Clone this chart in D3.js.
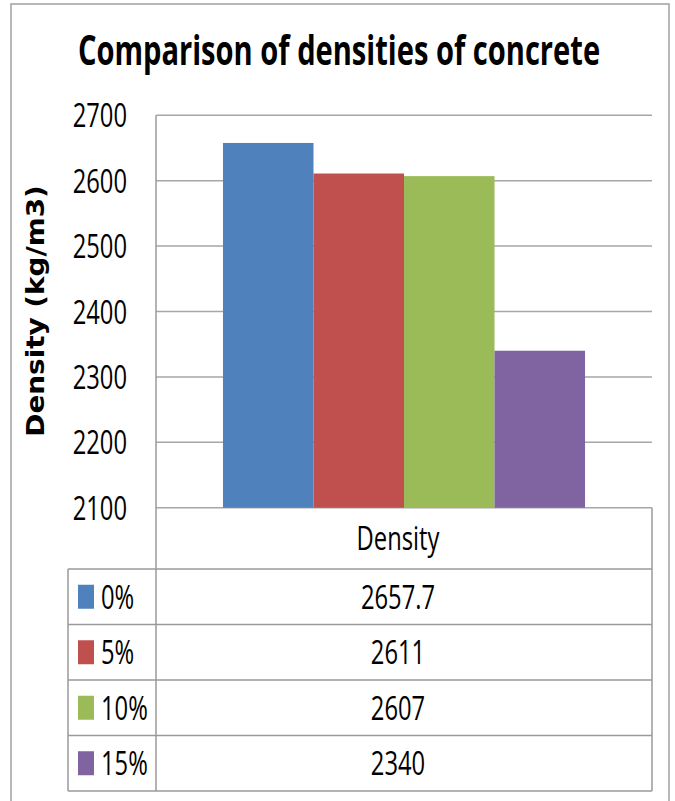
<!DOCTYPE html>
<html>
<head>
<meta charset="utf-8">
<script src="https://cdn.jsdelivr.net/npm/d3@7"></script>
<style>
  html, body { margin: 0; padding: 0; background: #fff; }
  svg { display: block; }
</style>
</head>
<body>
<svg id="chart" width="675" height="801"></svg>
<script>
// Chart data
const categories = ["Density"];
const seriesNames = ["0%", "5%", "10%", "15%"];
const seriesValues = [2657.7, 2611, 2607, 2340];
const seriesColors = ["#4F81BD", "#C0504D", "#9BBB59", "#8064A2"];
const yTicks = [2100, 2200, 2300, 2400, 2500, 2600, 2700];
const titleText = "Comparison of densities of concrete";
const yAxisTitle = "Density (kg/m3)";

const svg = d3.select("#chart");
const font = "'Open Sans', sans-serif";

// Layout
const plot = { left: 156, right: 652, top: 115.3, bottom: 507.7 };
const table = { left: 68, headerBottom: 569, rowH: 55.5 };
const gridColor = "#a6a6a6";
const tableColor = "#9a9a9a";

// Narrow-looking text: regular font compressed horizontally
function narrowText(g, x, y, txt, size, sx, anchor, weight) {
  return g.append("text")
    .attr("transform", `translate(${x},${y}) scale(${sx},1)`)
    .attr("text-anchor", anchor)
    .attr("font-family", font)
    .attr("font-size", size)
    .attr("font-weight", weight || "normal")
    .attr("fill", "#000")
    .text(txt);
}

// Outer chart frame
svg.append("rect")
  .attr("x", 11).attr("y", 4)
  .attr("width", 658).attr("height", 820)
  .attr("fill", "none")
  .attr("stroke", "#a0a0a0")
  .attr("stroke-width", 1.5);

// Scales
const y = d3.scaleLinear()
  .domain([yTicks[0], yTicks[yTicks.length - 1]])
  .range([plot.bottom, plot.top]);

const x0 = d3.scaleBand()
  .domain(categories)
  .range([plot.left, plot.right])
  .paddingInner(0)
  .paddingOuter(0.185);

const x1 = d3.scaleBand()
  .domain(seriesNames)
  .range([0, x0.bandwidth()])
  .padding(0);

// Gridlines
const gridG = svg.append("g");
gridG.selectAll("line")
  .data(yTicks)
  .join("line")
  .attr("x1", plot.left).attr("x2", plot.right)
  .attr("y1", d => y(d)).attr("y2", d => y(d))
  .attr("stroke", gridColor)
  .attr("stroke-width", 1.5);

// Bars
const barG = svg.append("g");
categories.forEach(cat => {
  barG.selectAll("rect")
    .data(seriesNames.map((s, i) => ({ s, v: seriesValues[i], c: seriesColors[i] })))
    .join("rect")
    .attr("x", d => x0(cat) + x1(d.s))
    .attr("y", d => y(d.v))
    .attr("width", x1.bandwidth())
    .attr("height", d => y(yTicks[0]) - y(d.v))
    .attr("fill", d => d.c);
});

// Y tick labels
const tickG = svg.append("g");
yTicks.forEach(t => {
  narrowText(tickG, 127, y(t) + 12, String(t), 33, 0.72, "end");
});

// Vertical axis line (continues as the table column divider)
const tableBottom = table.headerBottom + table.rowH * seriesNames.length;
svg.append("line")
  .attr("x1", plot.left).attr("x2", plot.left)
  .attr("y1", plot.top).attr("y2", tableBottom)
  .attr("stroke", tableColor).attr("stroke-width", 1.5);

// Data table
const tblG = svg.append("g");
// right border
tblG.append("line")
  .attr("x1", plot.right).attr("x2", plot.right)
  .attr("y1", plot.bottom).attr("y2", tableBottom)
  .attr("stroke", tableColor).attr("stroke-width", 1.5);
// left border
tblG.append("line")
  .attr("x1", table.left).attr("x2", table.left)
  .attr("y1", table.headerBottom).attr("y2", tableBottom)
  .attr("stroke", tableColor).attr("stroke-width", 1.5);
// horizontal row lines
d3.range(seriesNames.length + 1).forEach(i => {
  const yy = table.headerBottom + i * table.rowH;
  tblG.append("line")
    .attr("x1", table.left).attr("x2", plot.right)
    .attr("y1", yy).attr("y2", yy)
    .attr("stroke", tableColor).attr("stroke-width", 1.5);
});

const valueCx = (plot.left + plot.right) / 2 - 6;
// header
categories.forEach(cat => {
  narrowText(tblG, valueCx, (plot.bottom + table.headerBottom) / 2 + 12, cat, 33, 0.72, "middle");
});
// series rows
seriesNames.forEach((s, i) => {
  const top = table.headerBottom + i * table.rowH;
  const cy = top + table.rowH / 2;
  tblG.append("rect")
    .attr("x", 78).attr("y", cy - 12)
    .attr("width", 16).attr("height", 24)
    .attr("fill", seriesColors[i]);
  narrowText(tblG, 101, cy + 12, s, 33, 0.72, "start");
  narrowText(tblG, valueCx, cy + 12, String(seriesValues[i]), 33, 0.72, "middle");
});

// Title
narrowText(svg, 339, 65, titleText, 41, 0.71, "middle", "bold");

// Y axis title
svg.append("text")
  .attr("transform", `translate(44,311) rotate(-90) scale(1.16,1)`)
  .attr("text-anchor", "middle")
  .attr("font-family", "'DejaVu Sans', sans-serif")
  .attr("font-weight", "bold")
  .attr("font-size", 24)
  .attr("fill", "#000")
  .text(yAxisTitle);
</script>
</body>
</html>
